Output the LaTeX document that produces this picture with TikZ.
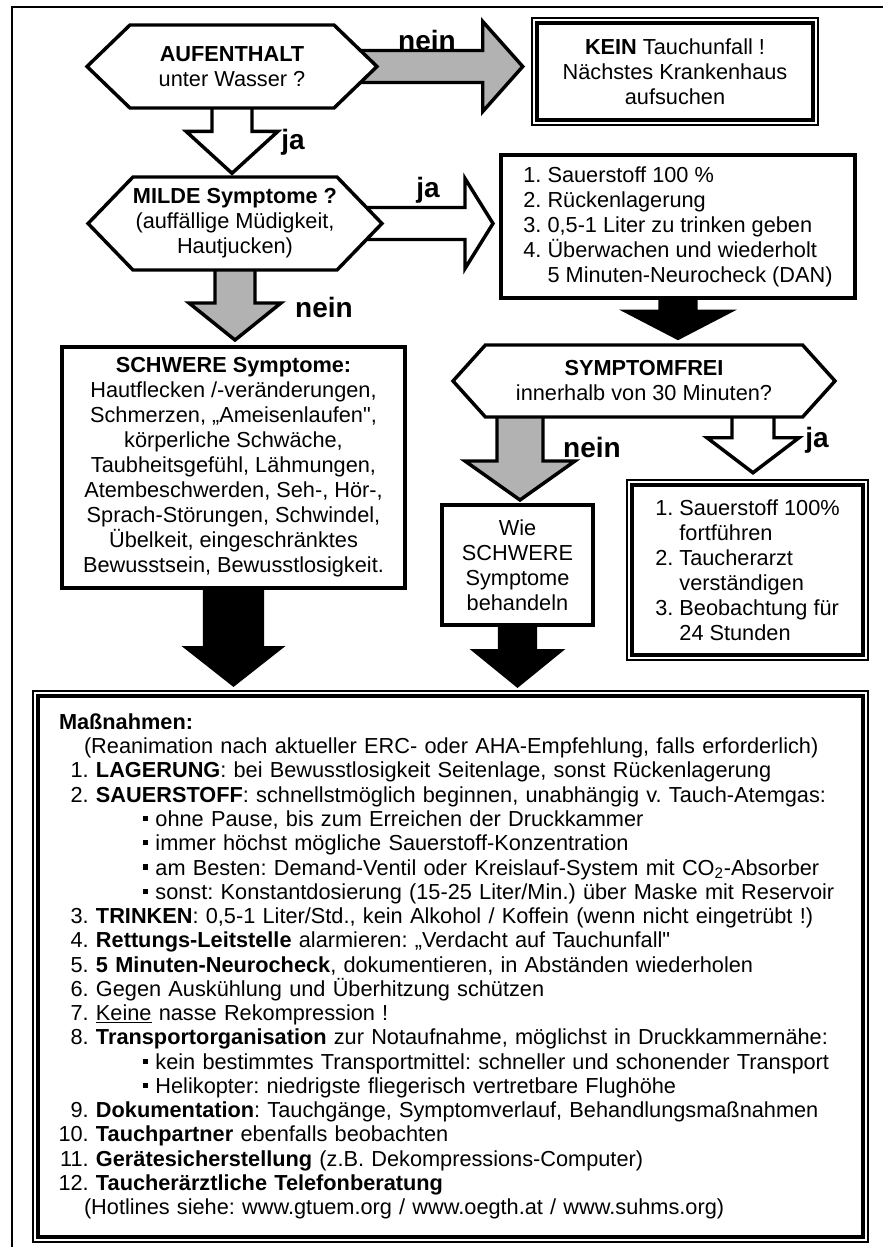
\documentclass[tikz,border=0pt]{standalone}
\usepackage{fontspec}
\setmainfont{Liberation Sans}
\usepackage{tikz}
\usetikzlibrary{positioning, calc, fit, backgrounds, shapes.symbols}
\definecolor{arrowgrey}{HTML}{B2B2B2}
\frenchspacing

\newcommand{\downblock}[6][white]{%
  \draw[blockarrow, fill=#1] let \p1=#2, \p2=#3 in
    (\x1-#4,\y1) -- (\x1-#4,\y2+#6) -- (\x1-#5,\y2+#6) -- (\x1,\y2)
    -- (\x1+#5,\y2+#6) -- (\x1+#4,\y2+#6) -- (\x1+#4,\y1) -- cycle;}
\newcommand{\rightblock}[6][white]{%
  \draw[blockarrow, fill=#1] let \p1=#2, \p2=#3 in
    (\x1,\y1+#4) -- (\x2-#6,\y1+#4) -- (\x2-#6,\y1+#5) -- (\x2,\y1)
    -- (\x2-#6,\y1-#5) -- (\x2-#6,\y1-#4) -- (\x1,\y1-#4) -- cycle;}
\newcommand{\nr}[1]{\makebox[27.75pt][r]{#1\ }}
\newcommand{\bul}{\hspace*{63pt}\rule[0.25em]{0.24em}{0.24em}\ }

\begin{document}
\begin{tikzpicture}[x=0.75pt, y=-0.75pt,
  hexa/.style={shape=signal, signal to=east and west, draw, line width=2.6pt, fill=white, inner sep=0pt, align=center, font=\fontsize{16.3}{18.75}\selectfont},
  box/.style={draw, line width=3pt, fill=white, inner sep=0pt, align=center, font=\fontsize{16.3}{18.75}\selectfont},
  listbox/.style={box, align=left},
  dblframe/.style={draw, line width=1.1pt, inner sep=2.2pt},
  blockarrow/.style={draw, line width=2.6pt, line join=miter},
  lbl/.style={font=\fontsize{21}{21}\selectfont\bfseries, inner sep=0pt}
]
  \useasboundingbox (0,0) rectangle (883,1247);
  \draw[line width=1.8pt] (12,1247) -- (12,7) -- (883,7);

  \node[hexa, signal pointer angle=88, minimum width=217.5pt, minimum height=62.25pt] (aufenthalt) at (232,66.5) {\textbf{AUFENTHALT}\\unter Wasser ?};
  \node[box, line width=3.4pt, minimum width=207pt, minimum height=72.75pt] (kein) at (675,71.5) {\textbf{KEIN} Tauchunfall !\\Nächstes Krankenhaus\\aufsuchen};
  \node[dblframe, fit=(kein)] (keinframe) {};

  \node[hexa, signal pointer angle=92, minimum width=219pt, minimum height=69.75pt] (milde) at (235,223.5) {\textbf{MILDE Symptome ?}\\(auffällige Müdigkeit,\\Hautjucken)};
  \node[listbox, minimum width=265.5pt, minimum height=107.25pt] (sauer) at (678,226.5) {1. Sauerstoff 100 \%\\2. Rückenlagerung\\3. 0,5-1 Liter zu trinken geben\\4. Überwachen und wiederholt\\\phantom{4.} 5 Minuten-Neurocheck (DAN)};

  \node[box, minimum width=257.25pt, minimum height=180.75pt] (schwer) at (233.5,467.5) {\textbf{SCHWERE Symptome:}\\Hautflecken /-veränderungen,\\Schmerzen, „Ameisenlaufen\textquotedbl,\\körperliche Schwäche,\\Taubheitsgefühl, Lähmungen,\\Atembeschwerden, Seh-, Hör-,\\Sprach-Störungen, Schwindel,\\Übelkeit, eingeschränktes\\Bewusstsein, Bewusstlosigkeit.};
  \node[hexa, signal pointer angle=96, minimum width=286.5pt, minimum height=54pt] (symfrei) at (644,381) {\textbf{SYMPTOMFREI}\\innerhalb von 30 Minuten?};
  \node[box, minimum width=113.25pt, minimum height=90pt] (wie) at (517.5,565) {Wie\\SCHWERE\\Symptome\\behandeln};
  \node[listbox, line width=3.4pt, minimum width=173.25pt, minimum height=127.5pt] (weiter) at (747.5,570) {1. Sauerstoff 100\%\\\phantom{1.} fortführen\\2. Taucherarzt\\\phantom{2.} verständigen\\3. Beobachtung für\\\phantom{3.} 24 Stunden};
  \node[dblframe, fit=(weiter)] (weiterframe) {};

  \node[box, line width=3.4pt, align=left, text width=587.25pt, inner xsep=15.75pt, minimum height=405.75pt, font=\fontsize{16.3}{18.2}\selectfont] (massn) at (450.5,966.5) {%
    \textbf{Maßnahmen:}\\
    \hspace*{18.75pt}(Reanimation nach aktueller ERC- oder AHA-Empfehlung, falls erforderlich)\\
    \nr{1.}\textbf{LAGERUNG}: bei Bewusstlosigkeit Seitenlage, sonst Rückenlagerung\\
    \nr{2.}\textbf{SAUERSTOFF}: schnellstmöglich beginnen, unabhängig v. Tauch-Atemgas:\\
    \bul ohne Pause, bis zum Erreichen der Druckkammer\\
    \bul immer höchst mögliche Sauerstoff-Konzentration\\
    \bul am Besten: Demand-Ventil oder Kreislauf-System mit CO\textsubscript{2}-Absorber\\
    \bul sonst: Konstantdosierung (15-25 Liter/Min.) über Maske mit Reservoir\\
    \nr{3.}\textbf{TRINKEN}: 0,5-1 Liter/Std., kein Alkohol / Koffein (wenn nicht eingetrübt !)\\
    \nr{4.}\textbf{Rettungs-Leitstelle} alarmieren: „Verdacht auf Tauchunfall\textquotedbl\\
    \nr{5.}\textbf{5 Minuten-Neurocheck}, dokumentieren, in Abständen wiederholen\\
    \nr{6.}Gegen Auskühlung und Überhitzung schützen\\
    \nr{7.}\underline{Keine} nasse Rekompression !\\
    \nr{8.}\textbf{Transportorganisation} zur Notaufnahme, möglichst in Druckkammernähe:\\
    \bul kein bestimmtes Transportmittel: schneller und schonender Transport\\
    \bul Helikopter: niedrigste fliegerisch vertretbare Flughöhe\\
    \nr{9.}\textbf{Dokumentation}: Tauchgänge, Symptomverlauf, Behandlungsmaßnahmen\\
    \nr{10.}\textbf{Tauchpartner} ebenfalls beobachten\\
    \nr{11.}\textbf{Gerätesicherstellung} (z.B. Dekompressions-Computer)\\
    \nr{12.}\textbf{Taucherärztliche Telefonberatung}\\
    \hspace*{18.75pt}(Hotlines siehe: www.gtuem.org / www.oegth.at / www.suhms.org)};
  \node[dblframe, fit=(massn)] (massnframe) {};

  \node[lbl] (neinA) at (427,40) {nein};
  \node[lbl] (jaA) at (293,142) {ja};
  \node[lbl] (jaB) at (428,190) {ja};
  \node[lbl] (neinB) at (324,307) {nein};
  \node[lbl] (neinC) at (592,447) {nein};
  \node[lbl] (jaC) at (817,440) {ja};

  \begin{scope}[on background layer]
    \rightblock[arrowgrey]{(aufenthalt.center)}{([xshift=-9pt]kein.west)}{12pt}{33.75pt}{30pt}
    \downblock{(aufenthalt.center)}{([yshift=1.5pt]milde.north)}{15pt}{34.5pt}{31.5pt}
    \rightblock{(milde.center)}{([xshift=-4.5pt]sauer.west)}{12pt}{33.75pt}{21pt}
    \downblock[arrowgrey]{(milde.center)}{([yshift=3.75pt]schwer.north)}{15pt}{34.5pt}{27.75pt}
    \downblock[black]{(sauer.center)}{([yshift=3.75pt]symfrei.north)}{13.5pt}{39pt}{20.25pt}
    \downblock[arrowgrey]{([xshift=-93pt]symfrei.center)}{([yshift=2.25pt]wie.north)}{17.25pt}{41.25pt}{29.25pt}
    \downblock{([xshift=81.75pt]symfrei.center)}{([yshift=7.5pt]weiter.north)}{15.75pt}{34.5pt}{26.25pt}
    \downblock[black]{(schwer.center)}{([yshift=6.75pt]massn.north)}{21.75pt}{35.25pt}{27.75pt}
    \downblock[black]{(wie.center)}{([yshift=6pt]massn.north)}{13.5pt}{32.25pt}{26.25pt}
  \end{scope}
\end{tikzpicture}
\end{document}
